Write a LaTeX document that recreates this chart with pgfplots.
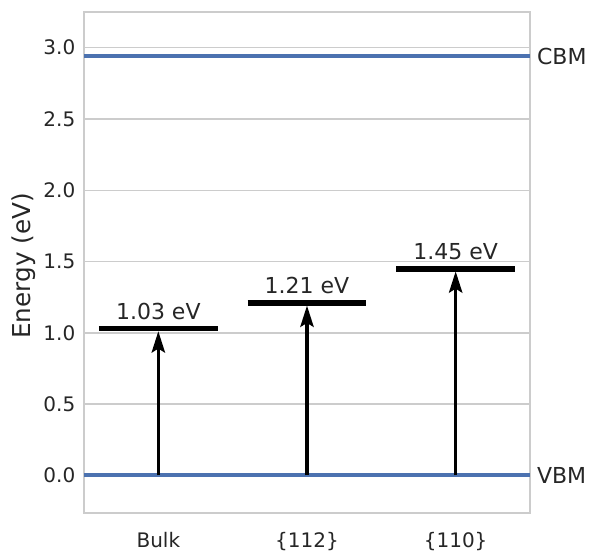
\documentclass[border=0pt]{standalone}
\usepackage{pgfplots}
\pgfplotsset{compat=1.18}
\usepackage{fontspec}
\setmainfont{DejaVu Sans}
\usetikzlibrary{arrows.meta}
\definecolor{sbblue}{HTML}{4C72B0}
\definecolor{gridc}{HTML}{CCCCCC}
\definecolor{txt}{HTML}{262626}
\begin{document}
\begin{tikzpicture}
\useasboundingbox (-63pt,-29.25pt) rectangle (379.5pt,384.75pt);
\begin{axis}[
  at={(0,0)}, anchor=south west,
  scale only axis,
  width=334.5pt, height=375.75pt,
  xmin=-0.5, xmax=2.5,
  ymin=-0.263, ymax=3.25,
  xtick={0,1,2},
  xticklabels={Bulk,\{112\},\{110\}},
  ytick={0,0.5,1,1.5,2,2.5,3},
  yticklabel style={/pgf/number format/.cd, fixed, fixed zerofill, precision=1},
  /pgf/number format/assume math mode=true,
  major tick length=0pt,
  ymajorgrids,
  grid style={gridc, line width=1.1pt},
  axis line style={gridc, line width=1.3pt},
  tick label style={font=\fontsize{15}{18}\selectfont, text=txt},
  xticklabel shift=11pt,
  yticklabel shift=3pt,
  ylabel={Energy (eV)},
  every axis y label/.style={at={(axis description cs:0,0.5)}, xshift=-45.4pt, yshift=-2.6pt, rotate=90, anchor=center, font=\fontsize{18.5}{22}\selectfont, text=txt},
  clip=false,
]
% VBM and CBM
\addplot[sbblue, line width=3pt] coordinates {(-0.5,0) (2.5,0)}
  node[pos=1, anchor=west, xshift=0.5pt, text=txt, font=\fontsize{16.5}{20}\selectfont] {VBM};
\addplot[sbblue, line width=3pt] coordinates {(-0.5,2.94) (2.5,2.94)}
  node[pos=1, anchor=west, xshift=0.5pt, text=txt, font=\fontsize{16.5}{20}\selectfont] {CBM};
% arrows
\addplot[black, line width=2.3pt, -{Stealth[length=16pt, width=10pt, inset=3pt]}, shorten >=2pt] coordinates {(0,0) (0,1.03)};
\addplot[black, line width=2.3pt, -{Stealth[length=16pt, width=10pt, inset=3pt]}, shorten >=2pt] coordinates {(1,0) (1,1.21)};
\addplot[black, line width=2.3pt, -{Stealth[length=16pt, width=10pt, inset=3pt]}, shorten >=2pt] coordinates {(2,0) (2,1.45)};
% levels with labels
\addplot[black, line width=4.3pt] coordinates {(-0.4,1.03) (0.4,1.03)}
  node[pos=0.5, anchor=base, yshift=6.75pt, text=txt, font=\fontsize{16.5}{20}\selectfont] {1.03 eV};
\addplot[black, line width=4.3pt] coordinates {(0.6,1.21) (1.4,1.21)}
  node[pos=0.5, anchor=base, yshift=6.75pt, text=txt, font=\fontsize{16.5}{20}\selectfont] {1.21 eV};
\addplot[black, line width=4.3pt] coordinates {(1.6,1.45) (2.4,1.45)}
  node[pos=0.5, anchor=base, yshift=6.75pt, text=txt, font=\fontsize{16.5}{20}\selectfont] {1.45 eV};
\end{axis}
\end{tikzpicture}
\end{document}
